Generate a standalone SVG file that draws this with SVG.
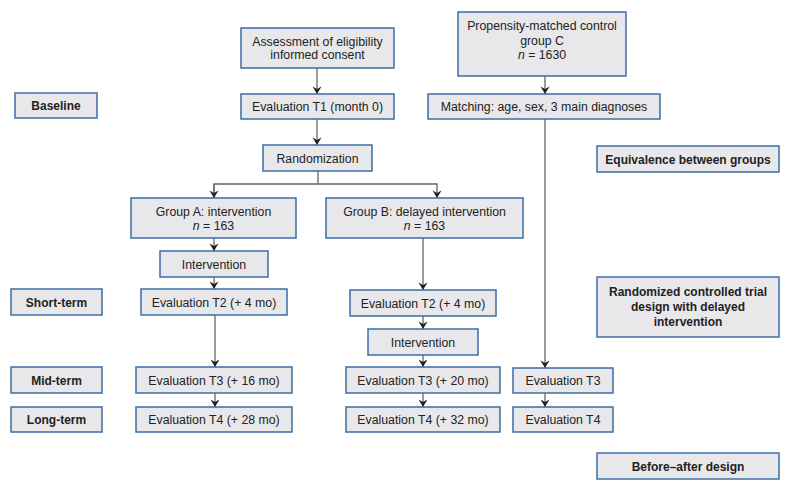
<svg xmlns="http://www.w3.org/2000/svg" width="790" height="492" viewBox="0 0 790 492">
<style>
.b{fill:#e8e8eb;stroke:#3a6ea5;stroke-width:1.5}
.t{font-family:"Liberation Sans",Arial,sans-serif;font-size:12.3px;fill:#222;text-anchor:middle}
.h{font-family:"Liberation Sans",Arial,sans-serif;font-size:12px;font-weight:bold;fill:#222;text-anchor:middle}
.c{fill:none;stroke:#666;stroke-width:1.3}
</style>
<defs>
<marker id="a" markerUnits="userSpaceOnUse" markerWidth="10" markerHeight="10" viewBox="-8 -5 9 10" refX="0" refY="0" orient="auto">
<path d="M0,0 L-7.5,-4.5 L-5,0 L-7.5,4.5 Z" fill="#222"/>
</marker>
</defs>
<rect width="790" height="492" fill="#fff"/>
<g id="connectors">
<line class="c" x1="317" y1="68" x2="317" y2="94" marker-end="url(#a)"/>
<line class="c" x1="317" y1="119" x2="317" y2="145" marker-end="url(#a)"/>
<polyline class="c" points="318,171 318,184"/>
<polyline class="c" points="214,198 214,184 437,184 437,198" marker-end="url(#a)"/>
<line class="c" x1="214" y1="184" x2="214" y2="198" marker-end="url(#a)"/>
<line class="c" x1="214" y1="238" x2="214" y2="251" marker-end="url(#a)"/>
<line class="c" x1="214" y1="277" x2="214" y2="289" marker-end="url(#a)"/>
<line class="c" x1="215" y1="315" x2="215" y2="367" marker-end="url(#a)"/>
<line class="c" x1="215" y1="393" x2="215" y2="407" marker-end="url(#a)"/>
<line class="c" x1="423" y1="238" x2="423" y2="290" marker-end="url(#a)"/>
<line class="c" x1="423" y1="316" x2="423" y2="329" marker-end="url(#a)"/>
<line class="c" x1="423" y1="355" x2="423" y2="367" marker-end="url(#a)"/>
<line class="c" x1="423" y1="393" x2="423" y2="407" marker-end="url(#a)"/>
<line class="c" x1="545" y1="76" x2="545" y2="94" marker-end="url(#a)"/>
<line class="c" x1="545" y1="119" x2="545" y2="368" marker-end="url(#a)"/>
<line class="c" x1="545" y1="393" x2="545" y2="407" marker-end="url(#a)"/>
</g>
<g id="assessment"><rect class="b" x="241" y="28" width="153" height="40"/><text class="t" x="317.5" y="46">Assessment of eligibility</text><text class="t" x="317.5" y="59">informed consent</text></g>
<g id="t1"><rect class="b" x="241" y="94" width="153" height="25"/><text class="t" x="317.5" y="111">Evaluation T1 (month 0)</text></g>
<g id="propensity"><rect class="b" x="458" y="12" width="168" height="64"/><text class="t" x="542" y="30">Propensity-matched control</text><text class="t" x="542" y="44.5">group C</text><text class="t" x="542" y="59"><tspan font-style="italic">n</tspan> = 1630</text></g>
<g id="matching"><rect class="b" x="428" y="94" width="232" height="25"/><text class="t" x="544" y="111">Matching: age, sex, 3 main diagnoses</text></g>
<g id="baseline"><rect class="b" x="15" y="93" width="82" height="25"/><text class="h" x="56" y="110">Baseline</text></g>
<g id="randomization"><rect class="b" x="263" y="145" width="109" height="26"/><text class="t" x="317.5" y="162.5">Randomization</text></g>
<g id="equivalence"><rect class="b" x="597" y="146" width="182" height="26"/><text class="h" x="688" y="163.5">Equivalence between groups</text></g>
<g id="groupA"><rect class="b" x="131" y="198" width="165" height="40"/><text class="t" x="213.5" y="215.5">Group A: intervention</text><text class="t" x="213.5" y="230"><tspan font-style="italic">n</tspan> = 163</text></g>
<g id="groupB"><rect class="b" x="326" y="198" width="197" height="40"/><text class="t" x="424.5" y="215.5">Group B: delayed intervention</text><text class="t" x="424.5" y="230"><tspan font-style="italic">n</tspan> = 163</text></g>
<g id="interventionA"><rect class="b" x="160" y="251" width="108" height="26"/><text class="t" x="214" y="268.5">Intervention</text></g>
<g id="shortterm"><rect class="b" x="11" y="289" width="91" height="26"/><text class="h" x="56.5" y="306.5">Short-term</text></g>
<g id="t2A"><rect class="b" x="141" y="289" width="146" height="26"/><text class="t" x="214" y="306.5">Evaluation T2 (+ 4 mo)</text></g>
<g id="rct"><rect class="b" x="597" y="277" width="182" height="60"/><text class="h" x="688" y="296">Randomized controlled trial</text><text class="h" x="688" y="311">design with delayed</text><text class="h" x="688" y="326">intervention</text></g>
<g id="t2B"><rect class="b" x="350" y="290" width="146" height="26"/><text class="t" x="423" y="307.5">Evaluation T2 (+ 4 mo)</text></g>
<g id="interventionB"><rect class="b" x="368" y="329" width="110" height="26"/><text class="t" x="423" y="346.5">Intervention</text></g>
<g id="midterm"><rect class="b" x="11" y="367" width="91" height="26"/><text class="h" x="56.5" y="384.5">Mid-term</text></g>
<g id="t3A"><rect class="b" x="136" y="367" width="156" height="26"/><text class="t" x="214" y="384.5">Evaluation T3 (+ 16 mo)</text></g>
<g id="t3B"><rect class="b" x="346" y="367" width="154" height="26"/><text class="t" x="423" y="384.5">Evaluation T3 (+ 20 mo)</text></g>
<g id="t3C"><rect class="b" x="513" y="368" width="100" height="25"/><text class="t" x="563" y="385">Evaluation T3</text></g>
<g id="longterm"><rect class="b" x="11" y="407" width="91" height="25"/><text class="h" x="56.5" y="424">Long-term</text></g>
<g id="t4A"><rect class="b" x="136" y="407" width="156" height="25"/><text class="t" x="214" y="424">Evaluation T4 (+ 28 mo)</text></g>
<g id="t4B"><rect class="b" x="346" y="407" width="154" height="25"/><text class="t" x="423" y="424">Evaluation T4 (+ 32 mo)</text></g>
<g id="t4C"><rect class="b" x="513" y="407" width="100" height="25"/><text class="t" x="563" y="424">Evaluation T4</text></g>
<g id="beforeafter"><rect class="b" x="597" y="453" width="182" height="26"/><text class="h" x="688" y="470.5">Before–after design</text></g>
</svg>
